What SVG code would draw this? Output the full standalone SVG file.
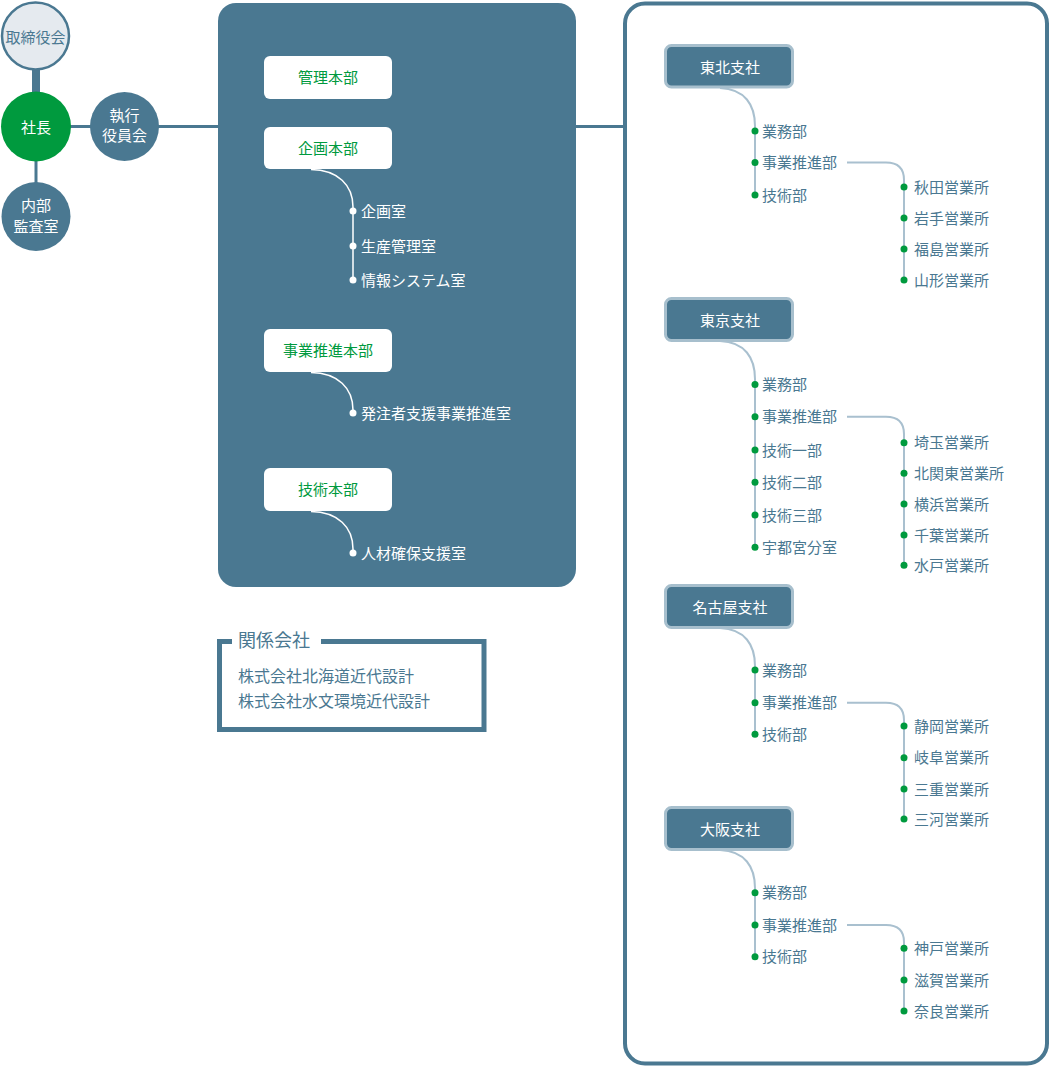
<svg xmlns="http://www.w3.org/2000/svg" width="1050" height="1068" viewBox="0 0 1050 1068">
<style>
text{font-family:"Noto Sans CJK JP","Noto Sans",sans-serif;font-size:15px}
.c{text-anchor:middle}
.w{fill:#ffffff}
.g{fill:#009a3e}
.b{fill:#4a7891}
.hb{fill:#4a7891;stroke:#a7bfcd;stroke-width:3}
.hw{fill:#ffffff}
.lw{fill:none;stroke:#ffffff;stroke-width:1.5}
.lb{fill:none;stroke:#a9c0cf;stroke-width:2}
.dw{fill:#ffffff}
.dg{fill:#009a3e}
</style>
<g id="connectors">
<rect x="32" y="66" width="8" height="28" fill="#4a7891"/>
<line x1="70" y1="126.5" x2="92" y2="126.5" stroke="#4a7891" stroke-width="3"/>
<line x1="158" y1="126.5" x2="220" y2="126.5" stroke="#4a7891" stroke-width="3"/>
<line x1="36" y1="160" x2="36" y2="184" stroke="#4a7891" stroke-width="3"/>
<line x1="574" y1="126.5" x2="627" y2="126.5" stroke="#4a7891" stroke-width="3"/>
</g>
<g id="board">
<circle cx="35.5" cy="36" r="33.5" fill="#e5eaef" stroke="#4a7891" stroke-width="2.5"/>
<text x="35.5" y="42.5" class="c b">取締役会</text>
</g>
<g id="president">
<circle cx="36" cy="126.5" r="35" fill="#009a3e"/>
<text x="36" y="133" class="c w">社長</text>
</g>
<g id="exec">
<circle cx="124.5" cy="126.5" r="34.5" fill="#4a7891"/>
<text x="124.5" y="120.5" class="c w">執行</text>
<text x="124.5" y="140.5" class="c w">役員会</text>
</g>
<g id="audit">
<circle cx="36" cy="216.5" r="34.5" fill="#4a7891"/>
<text x="36" y="210.5" class="c w">内部</text>
<text x="36" y="232" class="c w">監査室</text>
</g>
<g id="hq">
<rect x="218" y="3" width="358" height="584" rx="18" fill="#4a7891"/>
<g id="kanri">
<rect x="264" y="56" width="128" height="43" rx="6" class="hw"/>
<text x="328" y="83" class="c g">管理本部</text>
</g>
<g id="kikaku">
<rect x="264" y="127" width="128" height="42" rx="6" class="hw"/>
<text x="328" y="153.5" class="c g">企画本部</text>
<path d="M311,169.5 C338,170 353,185 353,207 L353,280" class="lw"/>
<circle cx="353" cy="211" r="3.5" class="dw"/>
<circle cx="353" cy="246" r="3.5" class="dw"/>
<circle cx="353" cy="280" r="3.5" class="dw"/>
<text x="361" y="216.5" class="w">企画室</text>
<text x="361" y="251.5" class="w">生産管理室</text>
<text x="361" y="285.5" class="w">情報システム室</text>
</g>
<g id="jigyo">
<rect x="264" y="329" width="128" height="43" rx="6" class="hw"/>
<text x="328" y="356" class="c g">事業推進本部</text>
<path d="M311,372.5 C338,373 353,388 353,410 L353,413" class="lw"/>
<circle cx="353" cy="413" r="3.5" class="dw"/>
<text x="361" y="418.5" class="w">発注者支援事業推進室</text>
</g>
<g id="gijutsu">
<rect x="264" y="468" width="128" height="43" rx="6" class="hw"/>
<text x="328" y="495" class="c g">技術本部</text>
<path d="M311,511.5 C338,512 353,527 353,549 L353,553" class="lw"/>
<circle cx="353" cy="553" r="3.5" class="dw"/>
<text x="361" y="558.5" class="w">人材確保支援室</text>
</g>
</g>
<g id="related">
<path d="M232,641.5 L219.5,641.5 L219.5,729.5 L484,729.5 L484,641.5 L321,641.5" fill="none" stroke="#4a7891" stroke-width="5"/>
<text x="238" y="647" class="b" style="font-size:18px">関係会社</text>
<text x="238" y="682" class="b" style="font-size:16px">株式会社北海道近代設計</text>
<text x="238" y="707" class="b" style="font-size:16px">株式会社水文環境近代設計</text>
</g>
<g id="branches">
<rect x="625" y="3.5" width="422" height="1060" rx="20" fill="#ffffff" stroke="#4a7891" stroke-width="4"/>
<g id="tohoku">
<rect x="665.5" y="45.5" width="127" height="41.5" rx="6" class="hb"/>
<text x="730" y="73" class="c w">東北支社</text>
<path d="M720,88 C745,89 755,105 755,126 L755,195" class="lb"/>
<path d="M847,162.5 L886,162.5 Q904,162.5 904,180 L904,280" class="lb"/>
<circle cx="755" cy="131" r="3.5" class="dg"/>
<circle cx="755" cy="162.5" r="3.5" class="dg"/>
<circle cx="755" cy="195" r="3.5" class="dg"/>
<text x="762" y="136.5" class="b">業務部</text>
<text x="762" y="168" class="b">事業推進部</text>
<text x="762" y="200.5" class="b">技術部</text>
<circle cx="904" cy="187" r="3.5" class="dg"/>
<circle cx="904" cy="218" r="3.5" class="dg"/>
<circle cx="904" cy="249" r="3.5" class="dg"/>
<circle cx="904" cy="280" r="3.5" class="dg"/>
<text x="914" y="192.5" class="b">秋田営業所</text>
<text x="914" y="223.5" class="b">岩手営業所</text>
<text x="914" y="254.5" class="b">福島営業所</text>
<text x="914" y="285.5" class="b">山形営業所</text>
</g>
<g id="tokyo">
<rect x="665.5" y="298.5" width="127" height="42" rx="6" class="hb"/>
<text x="730" y="326" class="c w">東京支社</text>
<path d="M720,341 C745,342 755,358 755,379 L755,547" class="lb"/>
<path d="M847,416.7 L886,416.7 Q904,416.7 904,434 L904,565" class="lb"/>
<circle cx="755" cy="384.5" r="3.5" class="dg"/>
<circle cx="755" cy="416.7" r="3.5" class="dg"/>
<circle cx="755" cy="450" r="3.5" class="dg"/>
<circle cx="755" cy="482.3" r="3.5" class="dg"/>
<circle cx="755" cy="515" r="3.5" class="dg"/>
<circle cx="755" cy="547.3" r="3.5" class="dg"/>
<text x="762" y="390" class="b">業務部</text>
<text x="762" y="422.2" class="b">事業推進部</text>
<text x="762" y="455.5" class="b">技術一部</text>
<text x="762" y="487.8" class="b">技術二部</text>
<text x="762" y="520.5" class="b">技術三部</text>
<text x="762" y="552.8" class="b">宇都宮分室</text>
<circle cx="904" cy="442.7" r="3.5" class="dg"/>
<circle cx="904" cy="473.3" r="3.5" class="dg"/>
<circle cx="904" cy="504" r="3.5" class="dg"/>
<circle cx="904" cy="535" r="3.5" class="dg"/>
<circle cx="904" cy="565.3" r="3.5" class="dg"/>
<text x="914" y="448.2" class="b">埼玉営業所</text>
<text x="914" y="478.8" class="b">北関東営業所</text>
<text x="914" y="509.5" class="b">横浜営業所</text>
<text x="914" y="540.5" class="b">千葉営業所</text>
<text x="914" y="570.8" class="b">水戸営業所</text>
</g>
<g id="nagoya">
<rect x="665.5" y="585.5" width="127" height="42" rx="6" class="hb"/>
<text x="730" y="613" class="c w">名古屋支社</text>
<path d="M720,628 C745,629 755,645 755,666 L755,734" class="lb"/>
<path d="M847,702.7 L886,702.7 Q904,702.7 904,720 L904,819" class="lb"/>
<circle cx="755" cy="670" r="3.5" class="dg"/>
<circle cx="755" cy="702.7" r="3.5" class="dg"/>
<circle cx="755" cy="734.3" r="3.5" class="dg"/>
<text x="762" y="675.5" class="b">業務部</text>
<text x="762" y="708.2" class="b">事業推進部</text>
<text x="762" y="739.8" class="b">技術部</text>
<circle cx="904" cy="726" r="3.5" class="dg"/>
<circle cx="904" cy="757.7" r="3.5" class="dg"/>
<circle cx="904" cy="789" r="3.5" class="dg"/>
<circle cx="904" cy="819" r="3.5" class="dg"/>
<text x="914" y="731.5" class="b">静岡営業所</text>
<text x="914" y="763.2" class="b">岐阜営業所</text>
<text x="914" y="794.5" class="b">三重営業所</text>
<text x="914" y="824.5" class="b">三河営業所</text>
</g>
<g id="osaka">
<rect x="665.5" y="807.5" width="127" height="42" rx="6" class="hb"/>
<text x="730" y="835" class="c w">大阪支社</text>
<path d="M720,850 C745,851 755,867 755,888 L755,957" class="lb"/>
<path d="M847,925 L886,925 Q904,925 904,942 L904,1011" class="lb"/>
<circle cx="755" cy="892.7" r="3.5" class="dg"/>
<circle cx="755" cy="925" r="3.5" class="dg"/>
<circle cx="755" cy="956.7" r="3.5" class="dg"/>
<text x="762" y="898.2" class="b">業務部</text>
<text x="762" y="930.5" class="b">事業推進部</text>
<text x="762" y="962.2" class="b">技術部</text>
<circle cx="904" cy="948.3" r="3.5" class="dg"/>
<circle cx="904" cy="980" r="3.5" class="dg"/>
<circle cx="904" cy="1011" r="3.5" class="dg"/>
<text x="914" y="953.8" class="b">神戸営業所</text>
<text x="914" y="985.5" class="b">滋賀営業所</text>
<text x="914" y="1016.5" class="b">奈良営業所</text>
</g>
</g>
</svg>
